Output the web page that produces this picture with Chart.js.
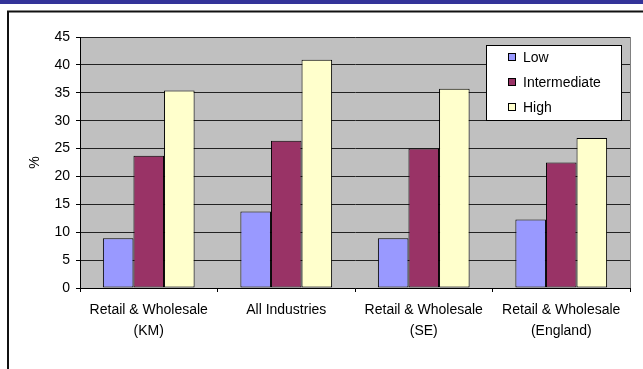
<!DOCTYPE html>
<html>
<head>
<meta charset="utf-8">
<script src="https://cdn.jsdelivr.net/npm/chart.js@4/dist/chart.umd.min.js"></script>
<style>
html,body{margin:0;padding:0;background:#fff;}
#wrap{position:relative;width:643px;height:369px;}
#strip{position:absolute;left:0;top:0;width:643px;height:4px;background:#333399;}
canvas{position:absolute;left:0;top:0;}
</style>
</head>
<body>
<div id="wrap">
<canvas id="skills" width="643" height="369"></canvas>
<div id="strip"></div>
</div>
<script>
let categories=[["Retail & Wholesale","(KM)"],"All Industries",["Retail & Wholesale","(SE)"],["Retail & Wholesale","(England)"]];
let seriesNames=["Low","Intermediate","High"];
let lowVals=[8.9,13.7,8.9,12.3];
let intermediateVals=[23.7,26.4,25,22.5];
let highVals=[35.4,40.9,35.7,26.9];
let colours=["#9999FF","#993366","#FFFFCC"];
let yTicks=[0,5,10,15,20,25,30,35,40,45];

const FONT="'Liberation Sans', Arial, sans-serif";

// grey plot area, frame round the chart, and the boxed legend
let framePlugin={
    id:'frame',
    beforeDraw(chart){
        let c=chart.ctx, a=chart.chartArea;
        c.save();
        c.fillStyle='#C0C0C0';
        c.fillRect(a.left,a.top,a.right-a.left,a.bottom-a.top);
        c.restore();
    },
    afterDraw(chart){
        let c=chart.ctx, a=chart.chartArea;
        c.save();
        c.strokeStyle='#808080';
        c.lineWidth=1;
        c.beginPath();
        c.moveTo(a.right+0.5,a.top);
        c.lineTo(a.right+0.5,a.bottom);
        c.stroke();
        // outer chart frame
        c.strokeStyle='#111';
        c.lineWidth=2;
        c.beginPath();
        c.moveTo(8,369);
        c.lineTo(8,11.5);
        c.lineTo(643,11.5);
        c.stroke();
        // legend
        c.fillStyle='#fff';
        c.fillRect(486,45,136,75);
        c.strokeStyle='#000';
        c.lineWidth=1;
        c.strokeRect(486.5,45.5,135,75);
        c.font='14px '+FONT;
        c.textBaseline='middle';
        chart.data.datasets.forEach(function(ds,i){
            let y=57+i*25;
            c.fillStyle=ds.backgroundColor;
            c.fillRect(508,y-4,8,8);
            c.strokeStyle='#000';
            c.strokeRect(508.5,y-3.5,7,7);
            c.fillStyle='#000';
            c.fillText(ds.label,523,y+1);
        });
        c.restore();
    }
};

let vals=[lowVals,intermediateVals,highVals];
let datasets=[];
for(let i=0;i<seriesNames.length;++i){
    datasets.push({
        label:seriesNames[i],
        data:vals[i],
        backgroundColor:colours[i],
        borderColor:'#000',
        borderWidth:1,
        borderSkipped:false,
        categoryPercentage:0.667,
        barPercentage:1
    });
}

Chart.defaults.font.family=FONT;
Chart.defaults.color='#000';

new Chart("skills",{
    type:"bar",
    data:{labels:categories,datasets:datasets},
    plugins:[framePlugin],
    options:{
        responsive:false,
        animation:false,
        layout:{padding:{top:37,right:13,left:0,bottom:0}},
        plugins:{legend:{display:false},tooltip:{enabled:false}},
        scales:{
            x:{
                grid:{offset:true,drawOnChartArea:false,drawTicks:true,tickLength:4,tickColor:'#000'},
                border:{color:'#000',width:1},
                ticks:{font:{size:14,lineHeight:1.5},padding:8,maxRotation:0,autoSkip:false},
                afterFit(s){s.height=81;}
            },
            y:{
                min:yTicks[0],
                max:yTicks[yTicks.length-1],
                afterBuildTicks(s){s.ticks=yTicks.map(function(v){return {value:v};});},
                grid:{color:'#222',tickColor:'#000',tickLength:4},
                border:{color:'#000',width:1},
                ticks:{font:{size:14},padding:6},
                title:{display:true,text:'%',font:{size:14},padding:{top:27,bottom:0}},
                afterFit(s){s.width=80;}
            }
        }
    }
});
</script>
</body>
</html>
